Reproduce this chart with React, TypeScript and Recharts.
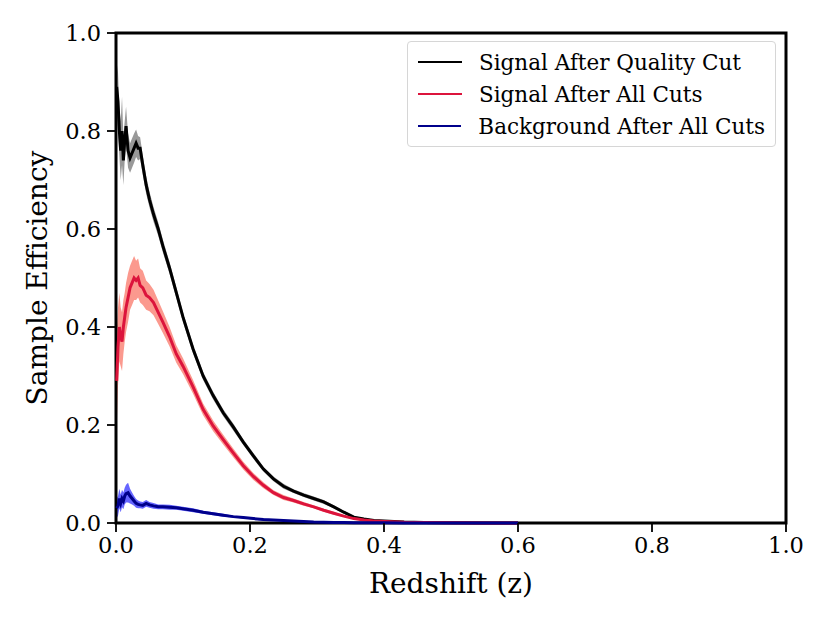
import { ComposedChart, Area, Line, XAxis, YAxis, ReferenceArea } from "recharts";

const redshift = [
  0.001, 0.003, 0.005, 0.007, 0.009, 0.011, 0.013, 0.015, 0.018, 0.021,
  0.024, 0.027, 0.03, 0.033, 0.036, 0.04, 0.045, 0.05, 0.056, 0.063,
  0.07, 0.08, 0.09, 0.1, 0.115, 0.13, 0.145, 0.16, 0.175, 0.19,
  0.205, 0.22, 0.235, 0.25, 0.265, 0.28, 0.295, 0.31, 0.325, 0.34,
  0.355, 0.37, 0.385, 0.4, 0.43, 0.46, 0.5, 0.55, 0.6,
];

// signal after quality cut
const qualityMean = [
  0.89, 0.86, 0.8, 0.76, 0.8, 0.74, 0.78, 0.81, 0.76, 0.745,
  0.755, 0.765, 0.775, 0.765, 0.765, 0.73, 0.69, 0.66, 0.63, 0.6,
  0.565, 0.52, 0.47, 0.42, 0.355, 0.3, 0.26, 0.225, 0.196, 0.165,
  0.137, 0.11, 0.09, 0.075, 0.065, 0.057, 0.05, 0.043, 0.033, 0.022,
  0.012, 0.008, 0.005, 0.004, 0.002, 0.001, 0.0005, 0.0002, 0,
];
const qualityErr = [
  0.05, 0.06, 0.05, 0.06, 0.07, 0.05, 0.04, 0.04, 0.035, 0.03,
  0.03, 0.03, 0.028, 0.025, 0.022, 0.02, 0.018, 0.016, 0.015, 0.014,
  0.013, 0.012, 0.011, 0.01, 0.009, 0.008, 0.008, 0.007, 0.007, 0.006,
  0.006, 0.005, 0.005, 0.005, 0.004, 0.004, 0.004, 0.004, 0.003, 0.003,
  0.002, 0.002, 0.001, 0.001, 0.001, 0.0005, 0.0003, 0.0002, 0,
];

// signal after all cuts
const allCutsMean = [
  0.29, 0.36, 0.4, 0.38, 0.37, 0.4, 0.42, 0.44, 0.46, 0.48,
  0.49, 0.5, 0.495, 0.5, 0.485, 0.48, 0.465, 0.46, 0.45, 0.43,
  0.41, 0.38, 0.345, 0.32, 0.278, 0.232, 0.198, 0.17, 0.143, 0.117,
  0.095, 0.077, 0.062, 0.052, 0.046, 0.039, 0.033, 0.026, 0.02, 0.014,
  0.009, 0.006, 0.004, 0.003, 0.0015, 0.001, 0.0005, 0.0002, 0,
];
const allCutsErr = [
  0.1, 0.08, 0.07, 0.06, 0.06, 0.055, 0.05, 0.05, 0.05, 0.045,
  0.045, 0.045, 0.04, 0.04, 0.035, 0.035, 0.03, 0.028, 0.026, 0.024,
  0.022, 0.02, 0.018, 0.016, 0.014, 0.012, 0.011, 0.01, 0.009, 0.008,
  0.007, 0.006, 0.005, 0.005, 0.004, 0.004, 0.003, 0.003, 0.003, 0.002,
  0.002, 0.001, 0.001, 0.001, 0.0005, 0.0003, 0.0002, 0.0001, 0,
];

// background after all cuts
const backgroundMean = [
  0.03, 0.035, 0.05, 0.04, 0.05, 0.045, 0.055, 0.06, 0.062, 0.055,
  0.05, 0.045, 0.04, 0.038, 0.037, 0.036, 0.04, 0.037, 0.035, 0.033,
  0.033, 0.032, 0.031, 0.029, 0.026, 0.022, 0.019, 0.016, 0.013, 0.011,
  0.009, 0.007, 0.006, 0.005, 0.004, 0.003, 0.002, 0.0015, 0.001, 0.0008,
  0.0006, 0.0005, 0.0004, 0.0003, 0.0002, 0.0001, 0.0001, 0, 0,
];
const backgroundErr = [
  0.02, 0.02, 0.02, 0.018, 0.018, 0.017, 0.017, 0.018, 0.02, 0.015,
  0.012, 0.01, 0.009, 0.008, 0.007, 0.007, 0.007, 0.006, 0.006, 0.005,
  0.005, 0.005, 0.004, 0.004, 0.004, 0.003, 0.003, 0.003, 0.002, 0.002,
  0.002, 0.002, 0.001, 0.001, 0.001, 0.001, 0.001, 0.0005, 0.0005, 0.0003,
  0.0002, 0.0002, 0.0001, 0.0001, 0, 0, 0, 0, 0,
];

const axisTicks = [0, 0.2, 0.4, 0.6, 0.8, 1.0];

const legendItems = [
  { name: "Signal After Quality Cut", color: "#000000" },
  { name: "Signal After All Cuts", color: "#dc143c" },
  { name: "Background After All Cuts", color: "#00008b" },
];

const chartData = redshift.map((z, i) => ({
  z,
  quality: qualityMean[i],
  qualityBand: [Math.max(0, qualityMean[i] - qualityErr[i]), qualityMean[i] + qualityErr[i]],
  allCuts: allCutsMean[i],
  allCutsBand: [Math.max(0, allCutsMean[i] - allCutsErr[i]), allCutsMean[i] + allCutsErr[i]],
  background: backgroundMean[i],
  backgroundBand: [Math.max(0, backgroundMean[i] - backgroundErr[i]), backgroundMean[i] + backgroundErr[i]],
}));

const FONT = "'DejaVu Serif', serif";

const LegendBox = () => (
  <div
    style={{
      position: "absolute",
      left: 407,
      top: 41,
      width: 369,
      boxSizing: "border-box",
      border: "1.5px solid #d6d6d6",
      borderRadius: 4,
      background: "#fff",
      padding: "4px 10px 4px 10px",
      fontFamily: FONT,
      fontSize: 21.5,
      color: "#000",
    }}
  >
    {legendItems.map((item) => (
      <div key={item.name} style={{ display: "flex", alignItems: "center", height: 32, whiteSpace: "nowrap" }}>
        <span style={{ display: "inline-block", width: 44, height: 2.4, background: item.color, marginRight: 17 }} />
        <span>{item.name}</span>
      </div>
    ))}
  </div>
);

const YLabel = (props: any) => {
  const { viewBox } = props;
  const cx = 37;
  const cy = viewBox.y + viewBox.height / 2;
  return (
    <text x={cx} y={cy} transform={`rotate(-90, ${cx}, ${cy})`} textAnchor="middle" dominantBaseline="central"
      style={{ fontFamily: FONT, fontSize: 28, fill: "#000" }}>
      Sample Efficiency
    </text>
  );
};

const XLabel = (props: any) => {
  const { viewBox } = props;
  const cx = viewBox.x + viewBox.width / 2;
  return (
    <text x={cx} y={583} textAnchor="middle" dominantBaseline="central"
      style={{ fontFamily: FONT, fontSize: 28, fill: "#000" }}>
      Redshift (z)
    </text>
  );
};

const App = () => {
  return (
    <div style={{ position: "absolute", left: 0, top: 0, width: 830, height: 623, background: "#fff", fontFamily: FONT }}>
      <ComposedChart width={830} height={623} data={chartData} margin={{ top: 33, right: 44, left: 16, bottom: 40 }}>
        <XAxis
          dataKey="z"
          type="number"
          domain={[0, 1]}
          ticks={axisTicks}
          tickFormatter={(v) => v.toFixed(1)}
          axisLine={false}
          tickLine={{ stroke: "#000", strokeWidth: 1.8 }}
          tickSize={9}
          tickMargin={5}
          height={60}
          tick={{ fill: "#000", fontSize: 22.5, fontFamily: FONT }}
          label={{ content: XLabel }}
        />
        <YAxis
          type="number"
          domain={[0, 1]}
          ticks={axisTicks}
          tickFormatter={(v) => v.toFixed(1)}
          axisLine={false}
          tickLine={{ stroke: "#000", strokeWidth: 1.8 }}
          tickSize={9}
          tickMargin={6}
          width={100}
          tick={{ fill: "#000", fontSize: 22.5, fontFamily: FONT }}
          label={{ content: YLabel }}
        />
        <Area dataKey="qualityBand" type="linear" stroke="none" fill="#000000" fillOpacity={0.4} isAnimationActive={false} legendType="none" />
        <Area dataKey="allCutsBand" type="linear" stroke="none" fill="#fa8072" fillOpacity={0.8} isAnimationActive={false} legendType="none" />
        <Area dataKey="backgroundBand" type="linear" stroke="none" fill="#0000ff" fillOpacity={0.6} isAnimationActive={false} legendType="none" />
        <Line dataKey="quality" type="linear" stroke="#000000" strokeWidth={3} dot={false} isAnimationActive={false} />
        <Line dataKey="allCuts" type="linear" stroke="#dc143c" strokeWidth={3} dot={false} isAnimationActive={false} />
        <Line dataKey="background" type="linear" stroke="#00008b" strokeWidth={3} dot={false} isAnimationActive={false} />
        <ReferenceArea x1={0} x2={1} y1={0} y2={1} fill="none" stroke="#000" strokeWidth={3} ifOverflow="visible" />
      </ComposedChart>
      <LegendBox />
    </div>
  );
};

export default App;
